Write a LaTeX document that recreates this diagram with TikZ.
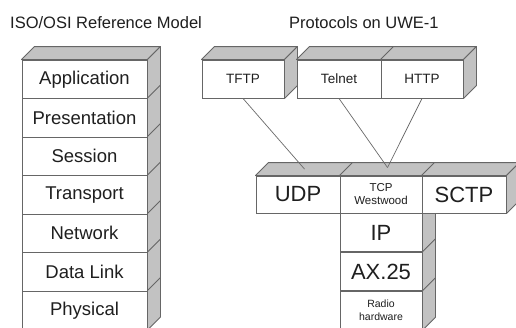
\documentclass[tikz,border=0pt]{standalone}
\usepackage{fontspec}
\setmainfont{Liberation Sans}
\usetikzlibrary{calc}
\definecolor{edgec}{gray}{0.40}
\definecolor{facec}{gray}{0.76}
\definecolor{txtc}{gray}{0.12}
\definecolor{linec}{gray}{0.42}
\newcommand\mysideface[1]{\filldraw[face] (#1.north east) -- ++(13,-13) -- ($(#1.south east)+(13,-13)$) -- (#1.south east) -- cycle;}
\newcommand\mytopface[1]{\filldraw[face] (#1.north west) -- ++(13,-13) -- ($(#1.north east)+(13,-13)$) -- (#1.north east) -- cycle;}
\begin{document}
\begin{tikzpicture}[x=1pt,y=-1pt,
  face/.style={fill=facec,draw=edgec,line width=0.9pt,line join=round},
  layer/.style={draw=edgec,fill=white,line width=0.9pt,minimum width=125pt,minimum height=38.5pt,inner sep=0pt,text=txtc,font=\fontsize{18.5}{20}\selectfont},
  proto/.style={draw=edgec,fill=white,line width=0.9pt,minimum width=83pt,minimum height=38pt,inner sep=0pt,text=txtc,align=center},
  stackbox/.style={draw=edgec,fill=white,line width=0.9pt,minimum width=82pt,minimum height=38.5pt,inner sep=0pt,text=txtc,align=center},
  title/.style={anchor=west,inner sep=0pt,text=txtc,font=\fontsize{16.5}{18}\selectfont},
  conn/.style={draw=linec,line width=0.7pt}]
\useasboundingbox (0,0) rectangle (516,327);
\clip (0,0) rectangle (516,327);
\fill[white] (0,0) rectangle (516,327);
% titles
\node[title] (t1) at (10,23) {ISO/OSI Reference Model};
\node[title] (t2) at (289,23) {Protocols on UWE-1};
% OSI stack
\node[layer] (app) at (84.5,79.25) {Application};
\node[layer] (pres) at (84.5,117.75) {Presentation};
\node[layer] (sess) at (84.5,156.25) {Session};
\node[layer] (trans) at (84.5,194.75) {Transport};
\node[layer] (net) at (84.5,233.25) {Network};
\node[layer] (dl) at (84.5,271.75) {Data Link};
\node[layer] (phys) at (84.5,310.25) {Physical};
\mytopface{app}
\foreach \n in {app,pres,sess,trans,net,dl,phys}{\mysideface{\n}}
% application protocols
\node[proto,font=\fontsize{13.5}{15}\selectfont,minimum width=82pt] (tftp) at (243,79) {TFTP};
\node[proto,font=\fontsize{13.5}{15}\selectfont,minimum width=84pt] (telnet) at (339,79) {Telnet};
\node[proto,font=\fontsize{13.5}{15}\selectfont,minimum width=82pt] (http) at (422,79) {HTTP};
\mytopface{tftp}\mysideface{tftp}
\mytopface{telnet}\mytopface{http}\mysideface{http}
% lower stack
\node[stackbox,font=\fontsize{22}{24}\selectfont] (ip) at (381,232.5) {IP};
\node[stackbox,font=\fontsize{22}{24}\selectfont] (ax) at (381,271.5) {AX.25};
\node[stackbox,font=\fontsize{10.5}{13}\selectfont] (radio) at (381,310.5) {Radio\\hardware};
\foreach \n in {ip,ax,radio}{\mysideface{\n}}
% transport row
\node[proto,font=\fontsize{22}{24}\selectfont,minimum width=84pt,minimum height=37pt] (udp) at (298,194.5) {UDP};
\node[proto,font=\fontsize{11.5}{13}\selectfont,minimum width=82pt,minimum height=37pt] (tcp) at (381,194.5) {TCP\\Westwood};
\node[proto,font=\fontsize{22}{24}\selectfont,minimum width=84pt,minimum height=37pt] (sctp) at (464,194.5) {SCTP};
\mytopface{udp}\mytopface{tcp}\mytopface{sctp}\mysideface{sctp}
% connectors
\coordinate (udptop) at ($(udp.north)+(6.5,-6.5)$);
\coordinate (tcptop) at ($(tcp.north)+(6.5,-8)$);
\draw[conn] (tftp.south) -- (udptop);
\draw[conn] (telnet.south) -- (tcptop);
\draw[conn] (http.south) -- (tcptop);
\end{tikzpicture}
\end{document}
